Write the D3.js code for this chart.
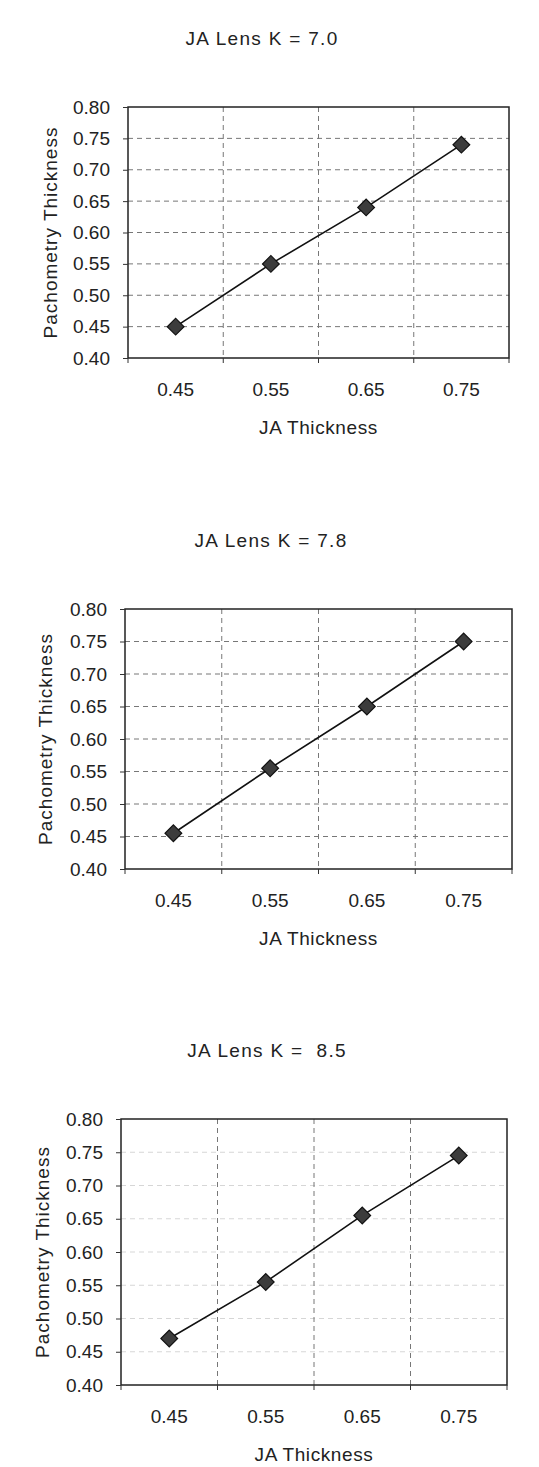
<!DOCTYPE html>
<html>
<head>
<meta charset="utf-8">
<script src="https://cdn.jsdelivr.net/npm/d3@7"></script>
<style>
  body { margin: 0; background: #fff; }
  svg text { font-family: "Liberation Sans", Arial, sans-serif; fill: #222; }
</style>
</head>
<body>
<svg width="539" height="1467"></svg>
<script>
// chart data
const categories = ["0.45", "0.55", "0.65", "0.75"];
const yTicks = [0.40, 0.45, 0.50, 0.55, 0.60, 0.65, 0.70, 0.75, 0.80];
const titles = ["JA Lens K = 7.0", "JA Lens K = 7.8", "JA Lens K =  8.5"];
const k70 = [0.45, 0.55, 0.64, 0.74];
const k78 = [0.455, 0.555, 0.65, 0.75];
const k85 = [0.47, 0.555, 0.655, 0.745];
const xTitle = "JA Thickness";
const yTitle = "Pachometry Thickness";

const svg = d3.select("svg");
const fontSize = 19;

// layout of each of the three stacked panels
const panels = [
    { title: titles[0], values: k70, left: 128, right: 509, top: 107, bottom: 358, titleX: 262, yTitleX: 50, hGrid: 1 },
    { title: titles[1], values: k78, left: 125, right: 512, top: 609, bottom: 869, titleX: 271, yTitleX: 45, hGrid: 1 },
    { title: titles[2], values: k85, left: 121, right: 507, top: 1119, bottom: 1385, titleX: 267, yTitleX: 42, hGrid: 0.3 }
];

panels.forEach(p => {
    const g = svg.append("g");

    const x = d3.scaleBand().domain(categories).range([p.left, p.right]);
    const y = d3.scaleLinear().domain([0.40, 0.80]).range([p.bottom, p.top]);
    const cx = c => x(c) + x.bandwidth() / 2;

    // Gridlines
    g.append("g")
        .selectAll("line")
        .data(yTicks.slice(1, -1))
        .enter().append("line")
        .attr("x1", p.left).attr("x2", p.right)
        .attr("y1", d => y(d)).attr("y2", d => y(d))
        .style("stroke", "#777")
        .style("stroke-opacity", p.hGrid)
        .style("stroke-width", 1)
        .style("stroke-dasharray", "5,4");

    g.append("g")
        .selectAll("line")
        .data(categories.slice(1))
        .enter().append("line")
        .attr("x1", d => x(d)).attr("x2", d => x(d))
        .attr("y1", p.top).attr("y2", p.bottom)
        .style("stroke", "#777")
        .style("stroke-width", 1)
        .style("stroke-dasharray", "5,4");

    // Plot frame
    g.append("rect")
        .attr("x", p.left).attr("y", p.top)
        .attr("width", p.right - p.left).attr("height", p.bottom - p.top)
        .style("fill", "none")
        .style("stroke", "#222")
        .style("stroke-width", 1.5);

    // Y axis
    const yAxis = g.append("g")
        .attr("transform", `translate(${p.left},0)`)
        .call(d3.axisLeft(y).tickValues(yTicks).tickFormat(d3.format(".2f")).tickSize(5).tickPadding(13));
    yAxis.select(".domain").remove();
    yAxis.selectAll("line").style("stroke", "#333");
    yAxis.selectAll("text").style("font-size", fontSize + "px").attr("font-family", null);

    // X axis labels at category centers
    const xAxis = g.append("g")
        .attr("transform", `translate(0,${p.bottom})`)
        .call(d3.axisBottom(x).tickSize(0).tickPadding(25));
    xAxis.select(".domain").remove();
    xAxis.selectAll("text").style("font-size", fontSize + "px").attr("font-family", null);

    // X tick marks on category boundaries
    g.append("g")
        .selectAll("line")
        .data(categories.map(c => x(c)).concat([p.right]))
        .enter().append("line")
        .attr("x1", d => d).attr("x2", d => d)
        .attr("y1", p.bottom).attr("y2", p.bottom + 5)
        .style("stroke", "#333");

    // Series line
    const line = d3.line()
        .x((d, i) => cx(categories[i]))
        .y(d => y(d));

    g.append("path")
        .datum(p.values)
        .attr("d", line)
        .style("fill", "none")
        .style("stroke", "#111")
        .style("stroke-width", 1.6);

    // Diamond markers
    g.append("g")
        .selectAll("path")
        .data(p.values)
        .enter().append("path")
        .attr("d", d3.symbol(d3.symbolSquare, 140))
        .attr("transform", (d, i) => `translate(${cx(categories[i])},${y(d)}) rotate(45)`)
        .style("fill", "#3c3c3c")
        .style("stroke", "#111")
        .style("stroke-width", 1.2);

    // Titles
    g.append("text")
        .attr("x", p.titleX)
        .attr("y", p.top - 69)
        .attr("dy", "0.35em")
        .attr("text-anchor", "middle")
        .style("white-space", "pre")
        .style("letter-spacing", "1.3px")
        .style("font-size", fontSize + "px")
        .text(p.title);

    g.append("text")
        .attr("x", (p.left + p.right) / 2)
        .attr("y", p.bottom + 69)
        .attr("dy", "0.35em")
        .attr("text-anchor", "middle")
        .style("letter-spacing", "0.6px")
        .style("font-size", fontSize + "px")
        .text(xTitle);

    g.append("text")
        .attr("transform", `translate(${p.yTitleX},${(p.top + p.bottom) / 2}) rotate(-90)`)
        .attr("dy", "0.35em")
        .attr("text-anchor", "middle")
        .style("letter-spacing", "1px")
        .style("font-size", fontSize + "px")
        .text(yTitle);
});
</script>
</body>
</html>
